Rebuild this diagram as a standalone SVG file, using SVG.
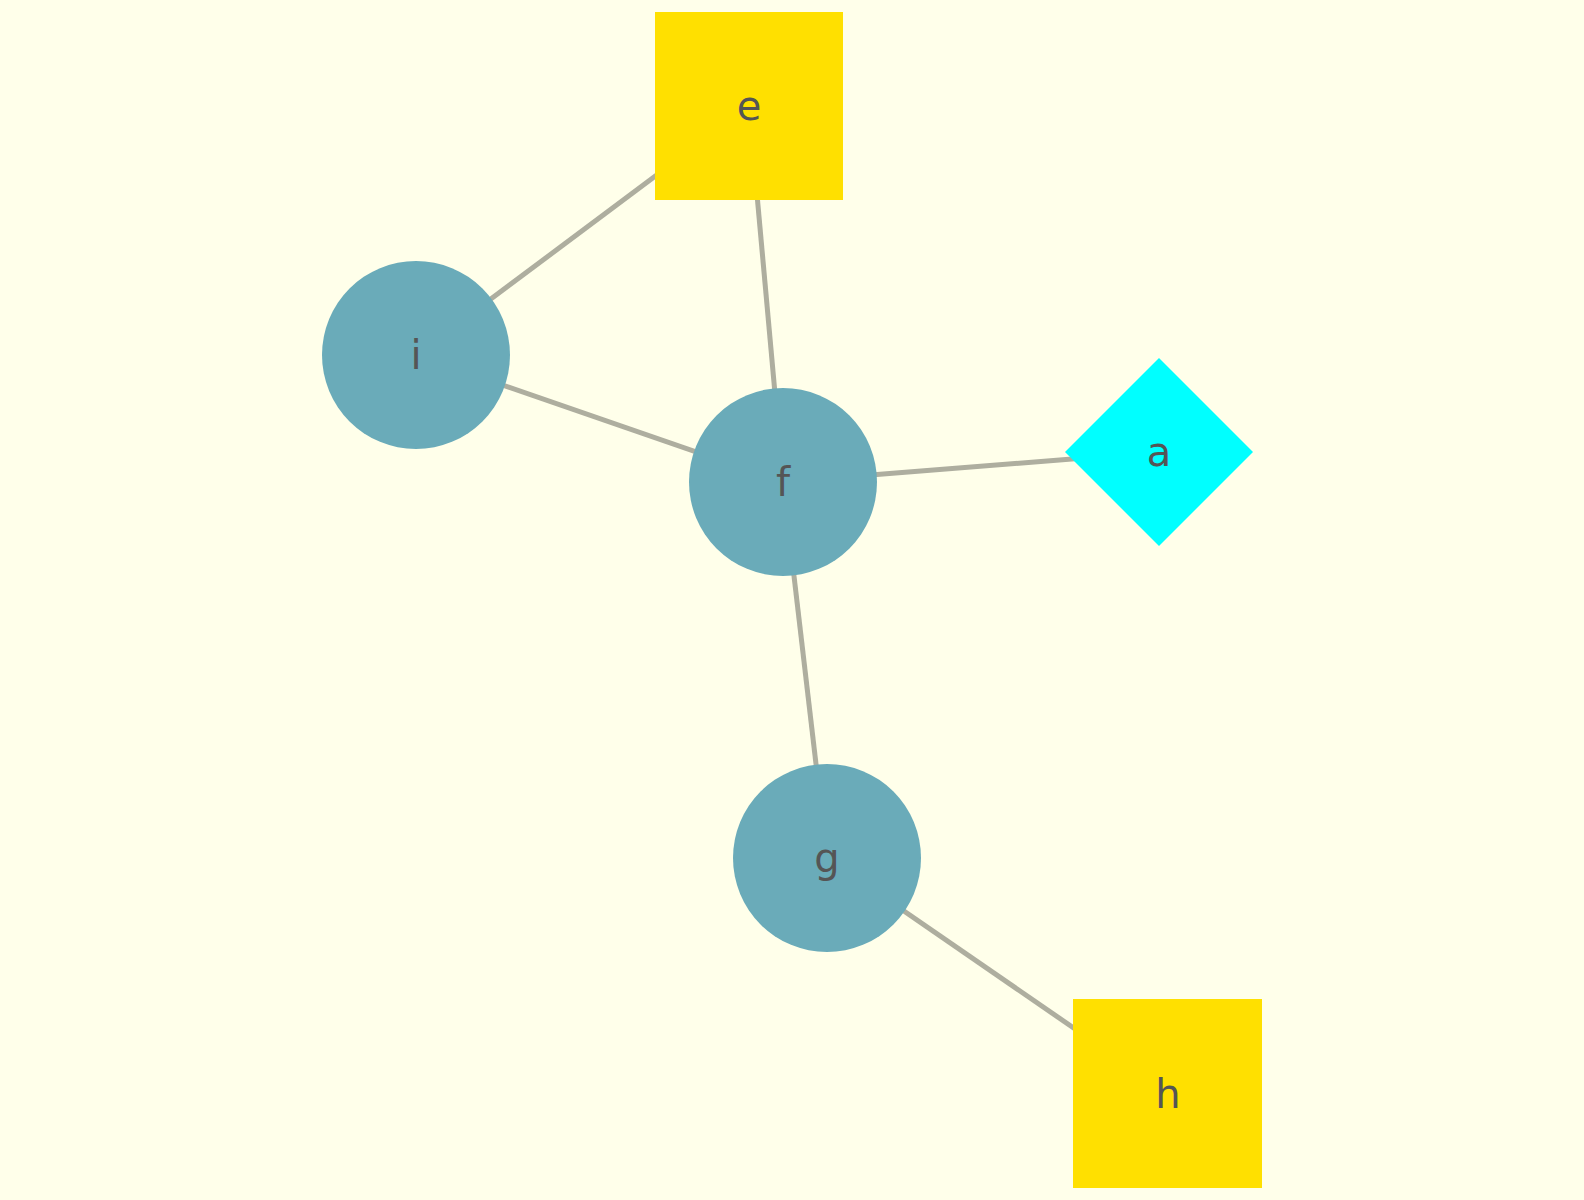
<svg xmlns="http://www.w3.org/2000/svg" width="1584" height="1200" viewBox="0 0 1584 1200">
  <style>
    .edge { stroke: #aeae9f; stroke-width: 5; fill: none; }
    .circ { fill: #6aabb9; }
    .box { fill: #ffe000; }
    .dia { fill: #00ffff; }
    .lbl { font-family: "DejaVu Sans", sans-serif; font-size: 40px; fill: #555555; text-anchor: middle; }
  </style>
  <rect width="1584" height="1200" fill="#ffffea"/>
  <g id="edges">
    <line class="edge" x1="416" y1="355" x2="749" y2="106"/>
    <line class="edge" x1="749" y1="106" x2="783" y2="482"/>
    <line class="edge" x1="416" y1="355" x2="783" y2="482"/>
    <line class="edge" x1="783" y1="482" x2="1159" y2="452"/>
    <line class="edge" x1="783" y1="482" x2="827" y2="858"/>
    <line class="edge" x1="827" y1="858" x2="1168" y2="1093"/>
  </g>
  <g id="node-e">
    <rect class="box" x="655" y="12" width="188" height="188"/>
    <text class="lbl" x="749" y="120">e</text>
  </g>
  <g id="node-i">
    <circle class="circ" cx="416" cy="355" r="94"/>
    <text class="lbl" x="416" y="369">i</text>
  </g>
  <g id="node-f">
    <circle class="circ" cx="783" cy="482" r="94"/>
    <text class="lbl" x="783" y="496">f</text>
  </g>
  <g id="node-a">
    <polygon class="dia" points="1159,358 1253,452 1159,546 1065,452"/>
    <text class="lbl" x="1159" y="466">a</text>
  </g>
  <g id="node-g">
    <circle class="circ" cx="827" cy="858" r="94"/>
    <text class="lbl" x="827" y="872">g</text>
  </g>
  <g id="node-h">
    <rect class="box" x="1073" y="999" width="189" height="189"/>
    <text class="lbl" x="1168" y="1108">h</text>
  </g>
</svg>
